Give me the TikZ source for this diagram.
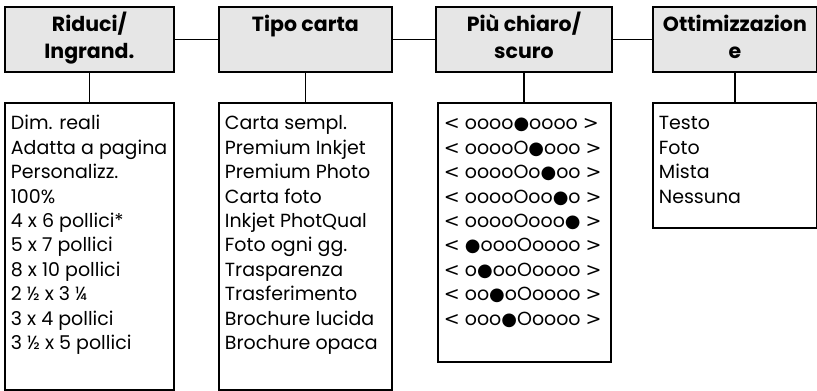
\documentclass[tikz,border=0pt]{standalone}
\usepackage{fontspec}
\setmainfont{Poppins}
\newfontfamily\symfont{DejaVu Sans}
\definecolor{boxgray}{RGB}{230,230,230}
\newcommand\fd{{\symfont\fontsize{18}{18}\selectfont ●}}
\newcommand\dotrow[1]{{\symfont <} #1 {\symfont >}}
\newcommand\listtext[3]{\parbox[t][#1][t]{#2}{\raggedright\strut #3}}
\tikzset{
    every picture/.append style={x=1pt, y=-1pt, line width=1.8pt},
    titlebox/.style={draw, fill=boxgray, anchor=north west, align=center,
        minimum height=65pt, inner sep=0pt,
        font=\fontsize{20.5}{27}\selectfont\bfseries},
    listbox/.style={draw, anchor=north west, inner xsep=6pt, inner ysep=10pt,
        font=\fontsize{19}{24.4}\selectfont}
}

\begin{document}
\begin{tikzpicture}
  \useasboundingbox (0,0) rectangle (817,391);

  \node (riduci) [titlebox, minimum width=169pt] at (4,6) {\strut Riduci/\\\strut Ingrand.};
  \node (tipo) [titlebox, minimum width=173pt] at (218,6) {\strut Tipo carta\\\strut};
  \node (chiaro) [titlebox, minimum width=176pt] at (435,6) {\strut Più chiaro/\\\strut scuro};
  \node (ottim) [titlebox, minimum width=164pt] at (652,6) {\strut Ottimizzazion\\\strut e};

  \node (riduciL) [listbox] at (4,102) {\listtext{267pt}{157pt}{Dim. reali\\
    Adatta a pagina\\ Personalizz.\\ 100\%\\ 4 x 6 pollici*\\ 5 x 7 pollici\\
    8 x 10 pollici\\ 2 ½ x 3 ¼\\ 3 x 4 pollici\\ 3 ½ x 5 pollici}};
  \node (tipoL) [listbox] at (218,102) {\listtext{267pt}{161pt}{Carta sempl.\\
    Premium Inkjet\\ Premium Photo\\ Carta foto\\ Inkjet PhotQual\\
    Foto ogni gg.\\ Trasparenza\\ Trasferimento\\ Brochure lucida\\
    Brochure opaca}};
  \node (chiaroL) [listbox] at (437,102) {\listtext{239pt}{161pt}{%
    \dotrow{oooo\fd oooo}\\ \dotrow{ooooO\fd ooo}\\ \dotrow{ooooOo\fd oo}\\
    \dotrow{ooooOoo\fd o}\\ \dotrow{ooooOooo\fd}\\ \dotrow{\fd oooOoooo}\\
    \dotrow{o\fd ooOoooo}\\ \dotrow{oo\fd oOoooo}\\ \dotrow{ooo\fd Ooooo}}};
  \node (ottimL) [listbox] at (652,102) {\listtext{105pt}{152pt}{Testo\\
    Foto\\ Mista\\ Nessuna}};

  \draw (riduci) -- (tipo);
  \draw (tipo) -- (chiaro);
  \draw (chiaro) -- (ottim);

  \draw (riduci.south) -- (riduci.south |- riduciL.north);
  \draw (tipo.south) -- (tipo.south |- tipoL.north);
  \draw (chiaro.south) -- (chiaro.south |- chiaroL.north);
  \draw (ottim.south) -- (ottim.south |- ottimL.north);
\end{tikzpicture}
\end{document}
